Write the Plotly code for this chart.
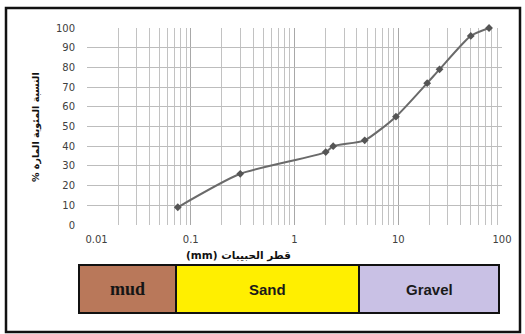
import plotly.graph_objects as go

grain_size_mm = [0.075, 0.3, 2, 2.36, 4.75, 9.5, 19, 25, 50, 75]
percent_passing = [9, 26, 37, 40, 43, 55, 72, 79, 96, 100]

x_ticks = [0.01, 0.1, 1, 10, 100]
x_tick_labels = ["\u00a0" * 6 + "0.01", "0.1", "1", "10", "100"]
y_ticks = list(range(0, 101, 10))

class_names = ["mud", "Sand", "Gravel"]
class_colors = ["#b9785a", "#ffef00", "#c9c1e5"]

minor_vals = [m * 10 ** e for e in range(-2, 2) for m in range(2, 10)]

W, H = 525, 334
L, R, T, B = 87, 23, 28, 109
pw, ph = W - L - R, H - T - B

def px(xp):
    return (xp - L) / pw

def py(yp):
    return (H - B - yp) / ph

fig = go.Figure()
fig.add_trace(go.Scatter(
    x=grain_size_mm, y=percent_passing, mode="lines+markers",
    line=dict(color="#6a6a6a", width=2, shape="spline", smoothing=0.6),
    marker=dict(symbol="diamond", size=6, color="#555555"),
    showlegend=False, cliponaxis=False,
))

fig.update_layout(
    width=W, height=H, margin=dict(l=L, r=R, t=T, b=B),
    paper_bgcolor="white", plot_bgcolor="white",
    font=dict(family="Verdana, DejaVu Sans, sans-serif", size=10, color="#404040"),
    xaxis=dict(type="log", range=[-2, 2], tickvals=x_ticks, ticktext=x_tick_labels,
               showgrid=True, gridcolor="#a8a8a8", gridwidth=1, zeroline=False,
               showline=False, ticks="", tickfont=dict(size=10), ticklabelstandoff=7,
               minor=dict(tickvals=minor_vals, showgrid=True, gridcolor="#c2c2c2", gridwidth=1)),
    yaxis=dict(range=[0, 100], tickvals=y_ticks, showgrid=True, gridcolor="#bdbdbd",
               zeroline=False, showline=False, ticks="", tickfont=dict(size=10), ticklabelstandoff=11),
)

# axis titles
fig.add_annotation(xref="paper", yref="paper", x=px(238), y=py(255), text="<b>(mm) قطر الحبيبات</b>",
                   xanchor="center", yanchor="middle",
                   showarrow=False, font=dict(family="DejaVu Sans, sans-serif", size=10.5, color="#111"))
fig.add_annotation(xref="paper", yref="paper", x=px(36), y=py(127), text="<b>% النسبة المئوية المارة</b>",
                   xanchor="center", yanchor="middle",
                   textangle=-90, showarrow=False, font=dict(family="DejaVu Sans, sans-serif", size=9.5, color="#111"))

# classification bar
edges = [79, 176, 359, 499]
for i, name in enumerate(class_names):
    fig.add_shape(type="rect", xref="paper", yref="paper",
                  x0=px(edges[i]), x1=px(edges[i + 1]), y0=py(313), y1=py(265),
                  fillcolor=class_colors[i], line=dict(color="#111", width=2), layer="above")
    fnt = dict(family="Liberation Serif, serif", size=18, color="#151515") if name == "mud" else \
        dict(family="Liberation Sans, Arial, sans-serif", size=15, color="#1a1a1a")
    fig.add_annotation(xref="paper", yref="paper", x=px((edges[i] + edges[i + 1]) / 2), y=py(289),
                       xanchor="center", yanchor="middle",
                       text="<b>%s</b>" % name, showarrow=False, font=fnt)

# outer frame
fig.add_shape(type="rect", xref="paper", yref="paper", x0=px(6), x1=px(520), y0=py(332), y1=py(8),
              line=dict(color="#111", width=2.5), fillcolor="rgba(0,0,0,0)", layer="above")

fig.write_html("out.html", config={"displayModeBar": False},
               post_script="document.body.style.margin='0';document.body.style.padding='0';")
